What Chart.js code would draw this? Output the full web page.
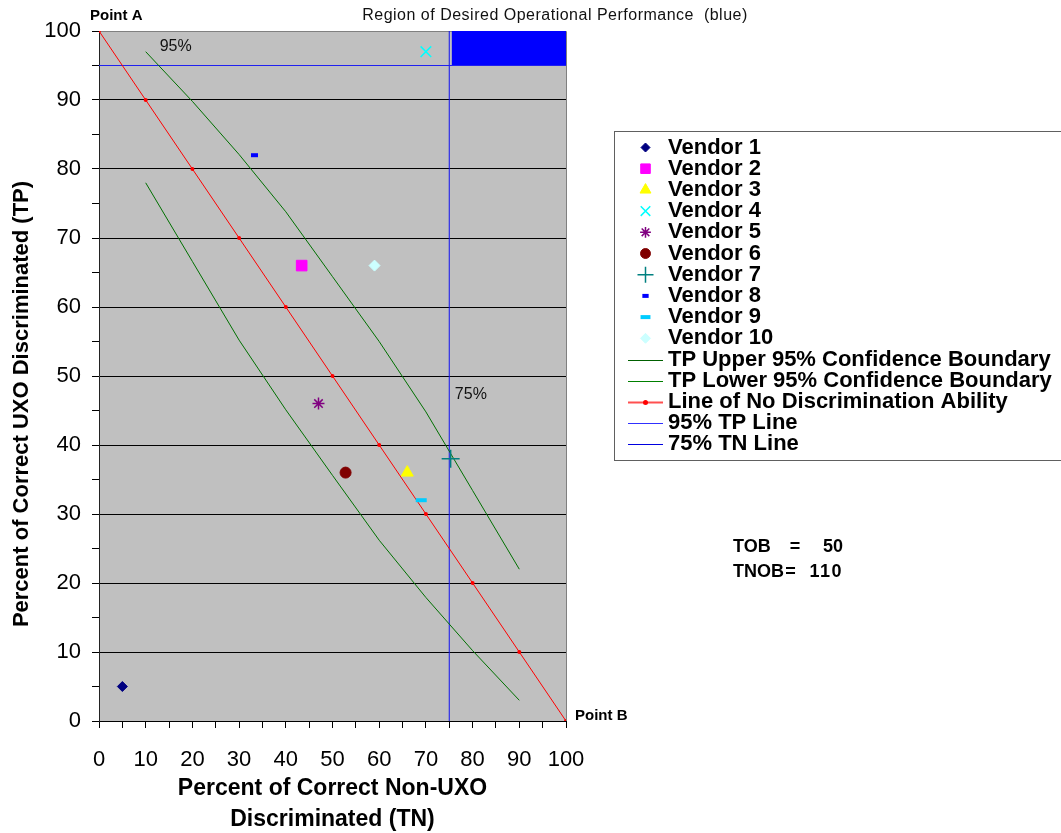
<!DOCTYPE html>
<html>
<head>
<meta charset="utf-8">
<title>Vendor Discrimination Performance</title>
<script src="https://cdn.jsdelivr.net/npm/chart.js@4.4.1/dist/chart.umd.min.js"></script>
<style>
  html, body { margin: 0; padding: 0; background: #fff; }
  canvas { display: block; }
</style>
</head>
<body>
<canvas id="chart" width="1061" height="833"></canvas>
<script>
// Vendor discrimination results vs. TP / TN confidence boundaries
// - scatter points per vendor
// - confidence boundaries, no-discrimination line, 95% / 75% lines
// - desired operational region filled in blue

// --- Data ---
const vendorNames = ['Vendor 1', 'Vendor 2', 'Vendor 3', 'Vendor 4', 'Vendor 5',
  'Vendor 6', 'Vendor 7', 'Vendor 8', 'Vendor 9', 'Vendor 10'];
const vendorTN = [5, 43.4, 66, 70, 47, 52.8, 75.3, 33.3, 69, 59];
const vendorTP = [5, 66, 36, 97, 46, 36, 38, 82, 32, 66];

const boundaryTN = [10, 20, 30, 40, 50, 60, 70, 80, 90];
const upperTP = [97, 89.8, 82.1, 73.8, 64.4, 55.0, 44.8, 33.4, 22];
const lowerTP = [78, 66.6, 55.2, 45.1, 35.6, 26.2, 17.9, 10.2, 3];

const noDiscTN = [0, 10, 20, 30, 40, 50, 60, 70, 80, 90, 100];
const noDiscTP = [100, 90, 80, 70, 60, 50, 40, 30, 20, 10, 0];

const tpLineTN = [0, 100];
const tpLineTP = [95, 95];
const tnLineTN = [75, 75];
const tnLineTP = [0, 100];

const regionTN = [75.5, 100];
const regionTP = [100, 100];
const regionFloor = 95;

const axisTicks = [0, 10, 20, 30, 40, 50, 60, 70, 80, 90, 100];

const lineNames = ['TP Upper 95% Confidence Boundary', 'TP Lower 95% Confidence Boundary',
  'Line of No Discrimination Ability', '95% TP Line', '75% TN Line'];

// --- Styles ---
const FONT = "'Liberation Sans', Arial, sans-serif";

const vendorStyles = [
  { style: 'rectRot', r: 5, color: '#000080', bw: 1 },
  { style: 'rect', r: 7.5, color: '#FF00FF', bw: 1 },
  { style: 'triangle', r: 7, color: '#FFFF00', bw: 1 },
  { style: 'crossRot', r: 7.5, color: '#00FFFF', bw: 1.5 },
  { style: 'star', r: 6, color: '#800080', bw: 1.5 },
  { style: 'circle', r: 5.5, color: '#800000', bw: 1 },
  { style: 'cross', r: 9, color: '#008080', bw: 1.5 },
  { style: 'line', r: 3.5, color: '#0000FF', bw: 4 },
  { style: 'line', r: 5.5, color: '#00CCFF', bw: 4 },
  { style: 'rectRot', r: 5.5, color: '#CCFFFF', bw: 1 }
];

// plot colours / legend colours for the five line series
const lineColors = ['#007000', '#007000', '#FF0000', '#2020F0', '#1010F0'];
const legendLineColors = ['#006000', '#008000', '#FF5050', '#3030FF', '#0000E0'];

// --- Helpers ---
function toPoints(xs, ys) {
  return xs.map((x, i) => ({ x: x, y: ys[i] }));
}

function drawText(ctx, text, x, y, font, align, color, spacing) {
  ctx.save();
  ctx.font = font;
  ctx.textAlign = align || 'left';
  ctx.textBaseline = 'middle';
  ctx.fillStyle = color || '#000';
  if (spacing) ctx.letterSpacing = spacing;
  ctx.fillText(text, x, y);
  ctx.restore();
}

// --- Datasets ---
const vendorSets = vendorNames.map((name, i) => ({
  label: name,
  data: [{ x: vendorTN[i], y: vendorTP[i] }],
  showLine: false,
  pointStyle: vendorStyles[i].style,
  pointRadius: vendorStyles[i].r,
  pointHoverRadius: vendorStyles[i].r,
  pointBackgroundColor: vendorStyles[i].color,
  pointBorderColor: vendorStyles[i].color,
  pointBorderWidth: vendorStyles[i].bw
}));

const lineData = [
  toPoints(boundaryTN, upperTP),
  toPoints(boundaryTN, lowerTP),
  toPoints(noDiscTN, noDiscTP),
  toPoints(tpLineTN, tpLineTP),
  toPoints(tnLineTN, tnLineTP)
];

const lineSets = lineNames.map((name, i) => ({
  label: name,
  data: lineData[i],
  showLine: true,
  borderColor: lineColors[i],
  borderWidth: 1,
  pointRadius: i === 2 ? 2 : 0,
  pointStyle: 'circle',
  pointBackgroundColor: lineColors[i],
  pointBorderColor: lineColors[i],
  pointBorderWidth: 0,
  fill: false
}));

const regionSet = {
  label: 'region',
  data: toPoints(regionTN, regionTP),
  showLine: true,
  borderWidth: 0,
  borderColor: 'rgba(0,0,0,0)',
  backgroundColor: '#0000FF',
  pointRadius: 0,
  fill: { value: regionFloor }
};

// --- Plugins ---
const plotFrame = {
  id: 'plotFrame',
  beforeDraw(chart) {
    const { ctx, chartArea: a } = chart;
    ctx.save();
    ctx.fillStyle = '#C0C0C0';
    ctx.fillRect(a.left, a.top, a.right - a.left, a.bottom - a.top);
    ctx.restore();
  },
  beforeDatasetsDraw(chart) {
    const { ctx, chartArea: a } = chart;
    ctx.save();
    ctx.strokeStyle = '#808080';
    ctx.lineWidth = 1;
    ctx.beginPath();
    ctx.moveTo(a.left, a.top + 0.5);
    ctx.lineTo(a.right + 0.5, a.top + 0.5);
    ctx.lineTo(a.right + 0.5, a.bottom);
    ctx.stroke();
    ctx.restore();
  }
};

const annotations = {
  id: 'annotations',
  afterDraw(chart) {
    const { ctx } = chart;
    const xs = chart.scales.x, ys = chart.scales.y;
    const bold = (s) => 'bold ' + s + 'px ' + FONT;
    const norm = (s) => s + 'px ' + FONT;

    drawText(ctx, 'Point A', xs.getPixelForValue(0) - 9, ys.getPixelForValue(100) - 15, bold(15));
    drawText(ctx, 'Point B', xs.getPixelForValue(100) + 9, ys.getPixelForValue(0) - 5, bold(15));
    drawText(ctx, 'Region of Desired Operational Performance  (blue)', 555, 16, norm(16), 'center', '#111', '0.5px');
    drawText(ctx, '95%', xs.getPixelForValue(13), ys.getPixelForValue(97.8), norm(16), 'left', '#111');
    drawText(ctx, '75%', xs.getPixelForValue(76.2), ys.getPixelForValue(47.3), norm(16), 'left', '#111');

    // axis titles
    ctx.save();
    ctx.translate(22, 404);
    ctx.rotate(-Math.PI / 2);
    drawText(ctx, 'Percent of Correct UXO Discriminated (TP)', 0, 0, bold(22), 'center');
    ctx.restore();
    const cx = (chart.chartArea.left + chart.chartArea.right) / 2;
    drawText(ctx, 'Percent of Correct Non-UXO', cx, 789, bold(23), 'center');
    drawText(ctx, 'Discriminated (TN)', cx, 820, bold(23), 'center');

    // TOB / TNOB note
    drawText(ctx, 'TOB', 733, 547, bold(18));
    drawText(ctx, '=', 795, 547, bold(18), 'center');
    drawText(ctx, '50', 843, 547, bold(18), 'right');
    drawText(ctx, 'TNOB', 733, 572, bold(18));
    drawText(ctx, '=', 790.5, 572, bold(18), 'center');
    drawText(ctx, '110', 843, 572, bold(18), 'right', '#000', '1.5px');
  }
};

const boxLegend = {
  id: 'boxLegend',
  afterDraw(chart) {
    const { ctx } = chart;
    const left = 614.5, top = 131.5, right = 1075, bottom = 460.5;
    const rowTop = 147.5, rowStep = 21.2, markX = 645.5, textX = 668;
    ctx.save();
    ctx.fillStyle = '#fff';
    ctx.fillRect(left, top, right - left, bottom - top);
    ctx.strokeStyle = '#606060';
    ctx.lineWidth = 1;
    ctx.strokeRect(left, top, right - left, bottom - top);

    const sets = chart.data.datasets.filter(d => d.label !== 'region');
    sets.forEach((ds, i) => {
      const y = rowTop + i * rowStep;
      if (ds.showLine) {
        const k = i - vendorSets.length;
        const ly = Math.round(y) + 0.5;
        ctx.strokeStyle = legendLineColors[k];
        ctx.lineWidth = k === 2 ? 2 : 1.2;
        ctx.beginPath();
        ctx.moveTo(628, ly);
        ctx.lineTo(663, ly);
        ctx.stroke();
        if (ds.pointRadius > 0) {
          ctx.fillStyle = '#FF0000';
          ctx.beginPath();
          ctx.arc(markX, ly, 2.5, 0, Math.PI * 2);
          ctx.fill();
        }
      } else {
        ctx.fillStyle = ds.pointBackgroundColor;
        ctx.strokeStyle = ds.pointBorderColor;
        ctx.lineWidth = ds.pointBorderWidth;
        const r = ds.pointStyle === 'cross' ? 8 : ds.pointRadius * 0.9;
        if (Chart.helpers && Chart.helpers.drawPoint) {
          Chart.helpers.drawPoint(ctx, { pointStyle: ds.pointStyle, radius: r, rotation: 0, borderWidth: ds.pointBorderWidth }, markX, y);
        } else {
          ctx.beginPath();
          ctx.arc(markX, y, r, 0, Math.PI * 2);
          ctx.fill();
        }
      }
      drawText(ctx, ds.label, textX, y, 'bold 22px ' + FONT, 'left', '#000');
    });
    ctx.restore();
  }
};

// --- Chart ---
const tickFont = { family: FONT, size: 22 };

const chart = new Chart(document.getElementById('chart').getContext('2d'), {
  type: 'line',
  data: {
    datasets: [...vendorSets, ...lineSets, regionSet]
  },
  options: {
    responsive: false,
    animation: false,
    layout: { padding: { top: 31, right: 495, bottom: 0, left: 0 } },
    plugins: {
      legend: { display: false },
      tooltip: { enabled: false }
    },
    scales: {
      x: {
        type: 'linear',
        min: 0,
        max: 100,
        afterFit(scale) { scale.height = 112; },
        ticks: {
          stepSize: 5,
          autoSkip: false,
          maxRotation: 0,
          padding: 19,
          color: '#000',
          font: tickFont,
          callback: (v) => axisTicks.includes(v) ? String(v) : ''
        },
        grid: {
          drawOnChartArea: false,
          tickLength: 7,
          tickColor: '#000',
          color: '#000'
        },
        border: { color: '#000', width: 1 }
      },
      y: {
        type: 'linear',
        min: 0,
        max: 100,
        afterFit(scale) { scale.width = 99; },
        ticks: {
          stepSize: 5,
          autoSkip: false,
          padding: 11,
          color: '#000',
          font: tickFont,
          callback: (v) => axisTicks.includes(v) ? String(v) : ''
        },
        grid: {
          tickLength: 7,
          tickColor: '#000',
          color: (c) => {
            const v = c.tick ? c.tick.value : 0;
            if (v === 100) return '#808080';
            return axisTicks.includes(v) ? '#000' : 'rgba(0,0,0,0)';
          }
        },
        border: { color: '#222', width: 1 }
      }
    }
  },
  plugins: [plotFrame, annotations, boxLegend]
});
</script>
</body>
</html>
